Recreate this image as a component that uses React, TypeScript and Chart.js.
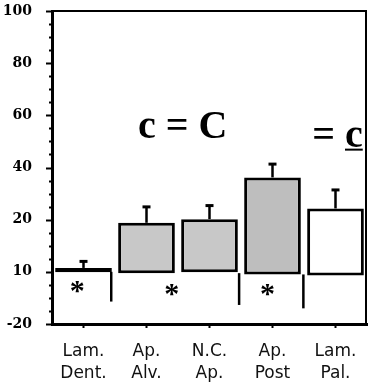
import { useEffect, useRef } from 'react';
import { Chart, registerables } from 'chart.js';

Chart.register(...registerables);

// ---- data ----
const categories = [['Lam.', 'Dent.'], ['Ap.', 'Alv.'], ['N.C.', 'Ap.'], ['Ap.', 'Post'], ['Lam.', 'Pal.']];
const barTops = [1.5, 18.8, 20.2, 36.2, 24.3];
const barBases = [-0.2, -0.5, -0.2, -1, -1.4];
const errorTops = [4.0, 24.9, 25.4, 41.3, 31.4];
const barFills = ['#000000', '#c8c8c8', '#c8c8c8', '#bebebe', '#ffffff'];
const yTickValues = [100, 80, 60, 40, 20, 0, -20];
const yTickLabels = ['100', '80', '60', '40', '20', '10', '-20'];
const separatorX = [0.44, 2.47, 3.49];
const separatorTop = [0, -0.5, -1];
const separatorBottom = [-11.4, -12.7, -14.0];
const asteriskX = [-0.1, 1.4, 2.92];
const asteriskY = [-5.8, -7.0, -7.0];
const noteText = ['c = C', '= c'];
const noteX = [0.865, 3.63];
const noteY = [51.3, 48.0];

const overlay = {
  id: 'overlay',
  afterDatasetsDraw(chart: any) {
    const { ctx, chartArea, scales } = chart;
    const xs = scales.x;
    const ys = scales.y;
    const x0 = xs.getPixelForValue(0);
    const x1 = xs.getPixelForValue(1);
    const xAt = (p: number) => x0 + (x1 - x0) * p;
    ctx.save();
    ctx.strokeStyle = '#000';
    ctx.fillStyle = '#000';

    // frame (top and right)
    ctx.lineWidth = 2;
    ctx.beginPath();
    ctx.moveTo(chartArea.left, chartArea.top);
    ctx.lineTo(chartArea.right - 1, chartArea.top);
    ctx.lineTo(chartArea.right - 1, chartArea.bottom);
    ctx.stroke();

    // y ticks (major / minor)
    ys.ticks.forEach((t: any) => {
      const y = Math.round(ys.getPixelForValue(t.value)) + 0.5;
      const len = t.value % 20 === 0 ? 6 : 3;
      ctx.lineWidth = 2;
      ctx.beginPath();
      ctx.moveTo(chartArea.left - len, y);
      ctx.lineTo(chartArea.left, y);
      ctx.stroke();
    });

    // error bars
    errorTops.forEach((e, i) => {
      const x = xs.getPixelForValue(i);
      const yb = ys.getPixelForValue(barTops[i]);
      const ye = ys.getPixelForValue(e);
      ctx.lineWidth = 2.5;
      ctx.beginPath();
      ctx.moveTo(x, yb);
      ctx.lineTo(x, ye);
      ctx.stroke();
      ctx.lineWidth = 3;
      ctx.beginPath();
      ctx.moveTo(x - 4, ye);
      ctx.lineTo(x + 4, ye);
      ctx.stroke();
    });

    // separators below baseline
    separatorX.forEach((p, i) => {
      const x = xAt(p);
      ctx.lineWidth = 2.5;
      ctx.beginPath();
      ctx.moveTo(x, ys.getPixelForValue(separatorTop[i]));
      ctx.lineTo(x, ys.getPixelForValue(separatorBottom[i]));
      ctx.stroke();
    });

    // asterisks
    ctx.font = 'bold 30px "Liberation Serif"';
    ctx.textAlign = 'center';
    ctx.textBaseline = 'alphabetic';
    asteriskX.forEach((p, i) => {
      const m = ctx.measureText('*');
      const cy = ys.getPixelForValue(asteriskY[i]);
      const off = (m.actualBoundingBoxAscent - m.actualBoundingBoxDescent) / 2;
      ctx.fillText('*', xAt(p), cy + off);
    });

    // notes
    ctx.font = 'bold 40px "Liberation Serif"';
    ctx.textAlign = 'left';
    noteText.forEach((t, i) => {
      const x = xAt(noteX[i]);
      const y = ys.getPixelForValue(noteY[i]);
      ctx.fillText(t, x, y);
      if (i === 1) {
        const wAll = ctx.measureText(t).width;
        const wC = ctx.measureText('c').width;
        ctx.lineWidth = 2;
        ctx.beginPath();
        ctx.moveTo(x + wAll - wC, y + 3);
        ctx.lineTo(x + wAll, y + 3);
        ctx.stroke();
      }
    });
    ctx.restore();
  },
};

export default function App() {
  const ref = useRef<HTMLCanvasElement>(null);
  useEffect(() => {
    if (!ref.current) return;
    const chart = new Chart(ref.current, {
      type: 'bar',
      data: {
        labels: categories as any,
        datasets: [
          {
            data: barTops.map((t, i) => [barBases[i], t]) as any,
            backgroundColor: barFills,
            borderColor: '#000',
            borderWidth: 3,
            borderSkipped: false,
            barPercentage: 0.9,
            categoryPercentage: 1,
          },
        ],
      },
      options: {
        animation: false,
        responsive: false,
        maintainAspectRatio: false,
        layout: { padding: { top: 11, right: 3, left: 0, bottom: 0 } },
        plugins: { legend: { display: false }, tooltip: { enabled: false } },
        scales: {
          x: {
            type: 'category',
            afterFit: (s: any) => { s.height = 64; },
            grid: { offset: false, drawOnChartArea: false, drawTicks: true, tickLength: 4, tickWidth: 2, tickColor: '#000', color: '#000' },
            border: { display: true, color: '#000', width: 3 },
            ticks: {
              autoSkip: false,
              maxRotation: 0,
              minRotation: 0,
              padding: 12,
              color: '#111',
              font: { family: '"DejaVu Sans"', size: 17, lineHeight: 1.32 },
            },
          },
          y: {
            type: 'linear',
            min: -20,
            max: 100,
            afterFit: (s: any) => { s.width = 52; },
            grid: { drawOnChartArea: false, drawTicks: true, tickLength: 20, tickColor: 'rgba(0,0,0,0)' },
            border: { display: true, color: '#000', width: 3 },
            ticks: {
              stepSize: 5,
              autoSkip: false,
              padding: 0,
              color: '#000',
              font: { family: '"DejaVu Serif"', size: 14, weight: 'bold' },
              callback: (v: any) => {
                const i = yTickValues.indexOf(Number(v));
                return i >= 0 ? yTickLabels[i] : '';
              },
            },
          },
        },
      },
      plugins: [overlay],
    });
    return () => chart.destroy();
  }, []);
  return (
    <div style={{ position: 'fixed', left: 0, top: 0, width: 370, height: 388, background: '#fff' }}>
      <canvas ref={ref} width={370} height={388} style={{ width: 370, height: 388, display: 'block' }} />
    </div>
  );
}
